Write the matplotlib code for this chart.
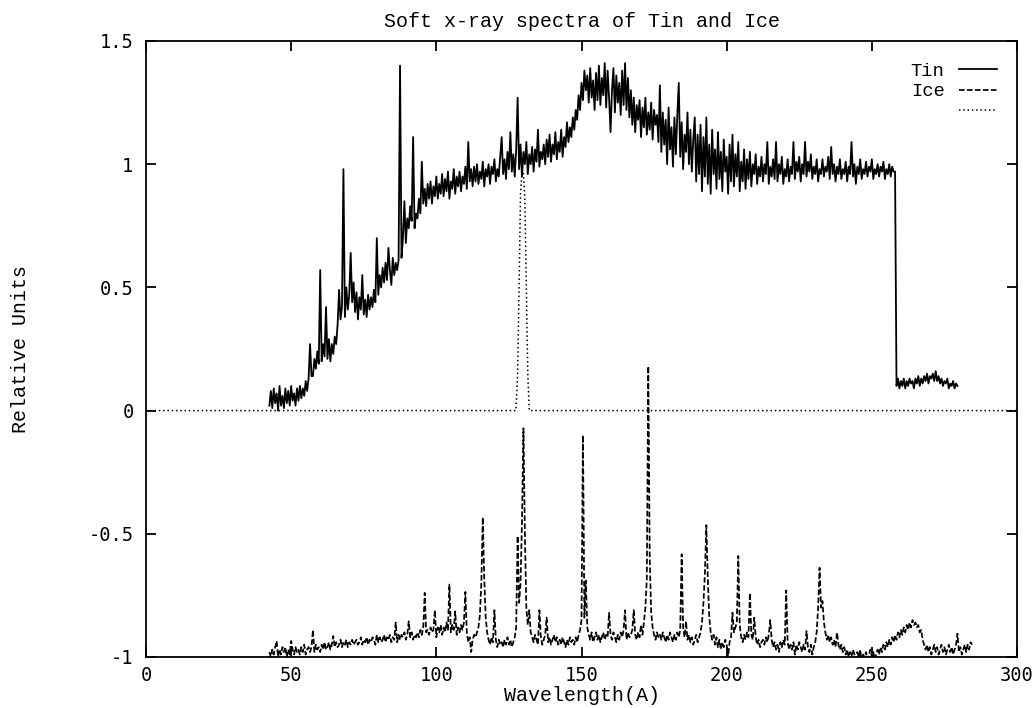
import numpy as np
import matplotlib
matplotlib.use("Agg")
import matplotlib.pyplot as plt

plt.rcParams['axes.unicode_minus'] = False

# ---------------- data ----------------
title = "Soft x-ray spectra of Tin and Ice"
xlabel = "Wavelength(A)"
ylabel = "Relative Units"
series_labels = ["Tin", "Ice", ""]

x_ticks = [0, 50, 100, 150, 200, 250, 300]
y_ticks = [-1, -0.5, 0, 0.5, 1, 1.5]
y_tick_labels = ["-1", "-0.5", "0", "0.5", "1", "1.5"]

# wavelength grid of the sampled spectra (Angstrom)
grid_step = 0.5
tin_start = 42.5
ice_start = 42.5

tin_values = [
    0.02, 0.08, 0.01, 0.09, 0.03, 0.07, 0.00, 0.10, 0.02, 0.06,
    0.01, 0.09, 0.03, 0.08, 0.02, 0.10, 0.04, 0.07, 0.02, 0.09,
    0.04, 0.10, 0.05, 0.09, 0.06, 0.12, 0.08, 0.13, 0.27, 0.14,
    0.14, 0.21, 0.17, 0.24, 0.19, 0.57, 0.20, 0.27, 0.22, 0.42,
    0.21, 0.29, 0.20, 0.27, 0.23, 0.30, 0.27, 0.35, 0.49, 0.37,
    0.42, 0.98, 0.38, 0.50, 0.41, 0.47, 0.64, 0.44, 0.52, 0.40,
    0.48, 0.37, 0.46, 0.41, 0.55, 0.39, 0.45, 0.38, 0.47, 0.41,
    0.46, 0.42, 0.49, 0.44, 0.70, 0.47, 0.55, 0.50, 0.58, 0.52,
    0.60, 0.53, 0.66, 0.57, 0.51, 0.62, 0.55, 0.60, 0.57, 0.61,
    1.40, 0.62, 0.70, 0.85, 0.68, 0.78, 0.74, 0.83, 0.77, 1.11,
    0.74, 0.80, 0.78, 0.86, 0.80, 1.01, 0.84, 0.90, 0.83, 0.92,
    0.86, 0.93, 0.84, 0.91, 0.87, 0.95, 0.86, 0.92, 0.88, 0.96,
    0.87, 0.94, 0.89, 0.97, 0.86, 0.93, 0.90, 0.98, 0.88, 0.95,
    0.91, 0.97, 0.89, 0.95, 0.92, 0.99, 0.90, 1.09, 0.93, 0.98,
    0.91, 0.99, 0.93, 1.00, 0.92, 0.97, 0.94, 1.01, 0.91, 0.98,
    0.95, 1.00, 0.92, 0.99, 0.96, 1.02, 0.93, 0.98, 0.95, 1.03,
    1.11, 0.96, 1.02, 0.94, 1.05, 0.98, 1.13, 0.97, 1.04, 0.95,
    1.06, 1.27, 0.98, 1.08, 0.95, 1.05, 1.00, 1.09, 0.96, 1.04,
    1.00, 1.07, 0.97, 1.06, 1.01, 1.14, 0.99, 1.05, 1.02, 1.08,
    1.00, 1.10, 1.03, 1.12, 1.01, 1.08, 1.04, 1.13, 1.02, 1.09,
    1.05, 1.14, 1.03, 1.11, 1.07, 1.17, 1.09, 1.15, 1.11, 1.19,
    1.14, 1.22, 1.18, 1.28, 1.22, 1.33, 1.26, 1.38, 1.30, 1.36,
    1.25, 1.39, 1.27, 1.34, 1.22, 1.37, 1.26, 1.40, 1.24, 1.35,
    1.28, 1.41, 1.23, 1.38, 1.27, 1.13, 1.30, 1.39, 1.21, 1.36,
    1.25, 1.33, 1.20, 1.38, 1.24, 1.41, 1.22, 1.35, 1.19, 1.30,
    1.16, 1.27, 1.13, 1.24, 1.18, 1.26, 1.11, 1.23, 1.15, 1.27,
    1.12, 1.21, 1.14, 1.25, 1.10, 1.22, 1.16, 1.20, 1.09, 1.32,
    1.05, 1.21, 1.08, 1.18, 1.00, 1.23, 1.06, 1.15, 0.99, 1.19,
    1.04, 1.20, 1.33, 1.03, 1.17, 0.98, 1.12, 1.05, 1.21, 1.00,
    1.14, 0.97, 1.10, 1.19, 0.93, 1.12, 0.96, 1.16, 0.89, 1.11,
    0.95, 1.19, 0.92, 1.08, 0.88, 1.14, 0.96, 1.06, 0.90, 1.13,
    0.94, 1.05, 0.89, 1.10, 0.97, 1.03, 0.88, 1.08, 0.93, 1.12,
    0.91, 1.04, 0.95, 1.09, 0.89, 1.01, 0.93, 1.06, 0.90, 1.02,
    0.94, 1.05, 0.91, 1.00, 0.96, 1.04, 0.92, 0.99, 0.95, 1.03,
    0.93, 1.00, 0.96, 1.09, 0.92, 0.99, 0.95, 1.02, 0.94, 1.09,
    0.93, 1.00, 0.96, 1.03, 0.92, 0.98, 0.95, 1.02, 0.93, 0.99,
    0.96, 1.09, 0.94, 1.01, 0.97, 1.03, 0.93, 1.00, 0.96, 1.09,
    0.95, 1.01, 0.97, 1.04, 0.94, 0.99, 0.96, 1.02, 0.93, 0.98,
    0.96, 1.02, 0.95, 0.99, 0.97, 1.03, 0.94, 1.07, 0.96, 1.00,
    0.93, 0.99, 0.96, 1.02, 0.94, 0.98, 0.96, 1.01, 0.93, 0.99,
    0.96, 1.09, 0.95, 1.00, 0.92, 0.99, 0.96, 1.02, 0.94, 0.98,
    0.96, 1.01, 0.95, 0.99, 0.97, 1.02, 0.94, 0.98, 0.96, 1.00,
    0.95, 0.99, 0.97, 1.01, 0.94, 0.98, 0.96, 1.00, 0.95, 0.99,
    0.97, 0.97, 0.10, 0.13, 0.09, 0.12, 0.10, 0.13, 0.09, 0.12,
    0.10, 0.13, 0.11, 0.12, 0.09, 0.13, 0.11, 0.14, 0.10, 0.13,
    0.11, 0.14, 0.12, 0.15, 0.11, 0.14, 0.13, 0.15, 0.12, 0.16,
    0.12, 0.14, 0.11, 0.13, 0.10, 0.12, 0.11, 0.13, 0.09, 0.11,
    0.10, 0.12, 0.09, 0.11, 0.10,
]

ice_values = [
    -0.98, -1.00, -0.97, -0.99, -0.96, -0.935, -1.00, -0.97, -0.99, -0.96,
    -0.98, -0.96, -1.00, -0.97, -0.99, -0.935, -0.97, -0.99, -0.96, -0.98,
    -0.97, -0.99, -0.96, -0.98, -0.95, -0.99, -0.97, -0.96, -0.98, -0.96,
    -0.89, -0.98, -0.95, -0.97, -0.96, -0.98, -0.95, -0.97, -0.94, -0.97,
    -0.96, -0.94, -0.97, -0.95, -0.915, -0.96, -0.94, -0.96, -0.95, -0.93,
    -0.96, -0.94, -0.95, -0.93, -0.96, -0.94, -0.95, -0.93, -0.95, -0.94,
    -0.93, -0.95, -0.94, -0.92, -0.95, -0.93, -0.94, -0.92, -0.95, -0.93,
    -0.94, -0.92, -0.93, -0.95, -0.91, -0.94, -0.92, -0.94, -0.93, -0.91,
    -0.94, -0.92, -0.93, -0.91, -0.94, -0.92, -0.93, -0.86, -0.94, -0.91,
    -0.93, -0.91, -0.92, -0.90, -0.93, -0.91, -0.855, -0.92, -0.90, -0.93,
    -0.91, -0.92, -0.90, -0.92, -0.89, -0.91, -0.88, -0.74, -0.90, -0.89,
    -0.91, -0.88, -0.90, -0.89, -0.81, -0.92, -0.88, -0.90, -0.87, -0.91,
    -0.88, -0.90, -0.86, -0.89, -0.706, -0.90, -0.87, -0.89, -0.815, -0.91,
    -0.88, -0.90, -0.87, -0.89, -0.86, -0.736, -0.90, -0.94, -0.92, -0.98,
    -0.93, -0.91, -0.92, -0.90, -0.88, -0.83, -0.70, -0.433, -0.68, -0.84,
    -0.90, -0.93, -0.95, -0.92, -0.94, -0.81, -0.93, -0.96, -0.93, -0.95,
    -0.94, -0.96, -0.93, -0.95, -0.92, -0.95, -0.93, -0.96, -0.94, -0.92,
    -0.88, -0.508, -0.78, -0.70, -0.45, -0.072, -0.50, -0.80, -0.87, -0.81,
    -0.90, -0.92, -0.94, -0.91, -0.93, -0.95, -0.81, -0.92, -0.95, -0.93,
    -0.91, -0.84, -0.94, -0.92, -0.95, -0.93, -0.91, -0.94, -0.92, -0.95,
    -0.93, -0.95, -0.92, -0.94, -0.96, -0.93, -0.95, -0.92, -0.94, -0.93,
    -0.95, -0.92, -0.94, -0.91, -0.89, -0.85, -0.10, -0.84, -0.69, -0.88,
    -0.91, -0.93, -0.90, -0.94, -0.92, -0.90, -0.93, -0.91, -0.94, -0.92,
    -0.90, -0.93, -0.91, -0.92, -0.82, -0.91, -0.93, -0.90, -0.92, -0.94,
    -0.91, -0.93, -0.90, -0.92, -0.89, -0.81, -0.93, -0.90, -0.92, -0.91,
    -0.89, -0.81, -0.91, -0.93, -0.90, -0.92, -0.87, -0.91, -0.86, -0.80,
    -0.685, 0.18, -0.60, -0.82, -0.88, -0.91, -0.93, -0.90, -0.92, -0.91,
    -0.93, -0.90, -0.92, -0.94, -0.91, -0.93, -0.90, -0.92, -0.94, -0.91,
    -0.93, -0.90, -0.92, -0.89, -0.583, -0.88, -0.92, -0.855, -0.93, -0.91,
    -0.94, -0.92, -0.95, -0.93, -0.91, -0.94, -0.92, -0.90, -0.86, -0.78,
    -0.66, -0.465, -0.68, -0.84, -0.90, -0.93, -0.91, -0.95, -0.92, -0.96,
    -0.93, -0.97, -0.94, -0.96, -0.93, -0.95, -1.00, -0.94, -0.92, -0.82,
    -0.90, -0.88, -0.86, -0.59, -0.87, -0.92, -0.94, -0.91, -0.93, -0.90,
    -0.92, -0.74, -0.91, -0.93, -0.84, -0.92, -0.95, -0.93, -0.96, -0.94,
    -0.93, -0.95, -0.92, -0.94, -0.91, -0.85, -0.93, -0.96, -0.94, -0.97,
    -0.95, -0.98, -0.94, -0.96, -0.93, -0.95, -0.73, -0.94, -0.97, -0.95,
    -0.97, -0.94, -0.99, -0.95, -0.97, -0.94, -0.96, -0.98, -0.95, -0.97,
    -0.895, -0.96, -0.98, -0.95, -0.99, -0.96, -0.94, -0.90, -0.80, -0.638,
    -0.80, -0.773, -0.86, -0.90, -0.93, -0.91, -0.94, -0.92, -0.95, -0.93,
    -0.96, -0.90, -0.95, -0.97, -0.95, -0.98, -0.96, -0.99, -0.97, -1.00,
    -0.98, -1.00, -0.97, -0.99, -1.01, -0.98, -1.00, -0.97, -1.02, -0.99,
    -1.00, -0.98, -1.01, -0.99, -0.97, -1.00, -0.98, -1.01, -0.99, -0.97,
    -0.99, -0.96, -0.98, -0.95, -0.97, -0.94, -0.96, -0.93, -0.95, -0.92,
    -0.94, -0.91, -0.93, -0.90, -0.92, -0.89, -0.91, -0.88, -0.90, -0.87,
    -0.89, -0.86, -0.88, -0.85, -0.87, -0.86, -0.88, -0.87, -0.90, -0.89,
    -0.93, -0.95, -0.97, -0.95, -0.98, -0.96, -0.99, -0.97, -0.95, -0.98,
    -0.96, -0.99, -0.97, -0.95, -0.98, -0.96, -0.99, -0.97, -0.95, -0.98,
    -0.96, -0.99, -0.97, -0.95, -0.905, -0.98, -0.96, -0.99, -0.97, -0.95,
    -0.98, -0.95, -0.97, -0.94, -0.95,
]

# third (dotted, unlabeled) curve: zero line with a narrow band near 130 A
dot_x = [0, 127.4, 128.0, 128.5, 129.0, 129.5, 130.0, 130.5, 131.0, 131.5, 132.0, 300]
dot_y = [0, 0, 0.15, 0.50, 0.88, 0.97, 0.97, 0.85, 0.50, 0.15, 0, 0]

# ---------------- plot ----------------
W, H = 1035, 708
fig = plt.figure(figsize=(W / 100, H / 100), dpi=100)
L, R, T, B = 146, 1017, 41, 657
ax = fig.add_axes([L / W, 1 - B / H, (R - L) / W, (B - T) / H])

tin_x = tin_start + grid_step * np.arange(len(tin_values))
ice_x = ice_start + grid_step * np.arange(len(ice_values))

h_tin, = ax.plot(tin_x, tin_values, color="black", lw=1.3)
h_ice, = ax.plot(ice_x, ice_values, color="black", lw=1.25, linestyle=(0, (3.2, 1.4)))
h_dot, = ax.plot(dot_x, dot_y, color="black", lw=1.1, linestyle=(0, (1, 1.8)))

ax.set_xlim(0, 300)
ax.set_ylim(-1, 1.5)
ax.set_xticks(x_ticks)
ax.set_xticklabels([str(v) for v in x_ticks])
ax.set_yticks(y_ticks)
ax.set_yticklabels(y_tick_labels)

for s in ax.spines.values():
    s.set_linewidth(1.3)
ax.tick_params(axis="both", direction="in", length=7, width=1.3,
               top=True, right=True, labelsize=13.5, colors="black")
ax.tick_params(axis="x", pad=6.5)
ax.tick_params(axis="y", pad=9)
for lab in ax.get_xticklabels() + ax.get_yticklabels():
    lab.set_family("DejaVu Sans Mono")

mono = "Liberation Mono"
ax.set_title(title, family=mono, fontsize=14.4, pad=10)
ax.set_xlabel(xlabel, family=mono, fontsize=14.4)
ax.xaxis.set_label_coords(0.5, -0.0475)
ax.set_ylabel(ylabel, family=mono, fontsize=14.4)
ax.yaxis.set_label_coords(-0.133, 0.5)

leg = ax.legend([h_tin, h_ice, h_dot], series_labels, loc="upper right",
                bbox_to_anchor=(0.977, 0.965), frameon=False, markerfirst=False,
                prop={"family": mono, "size": 13.5}, handlelength=2.05,
                handletextpad=0.75, labelspacing=0.19, borderpad=0,
                borderaxespad=0)

fig.savefig("out.png", dpi=100)
